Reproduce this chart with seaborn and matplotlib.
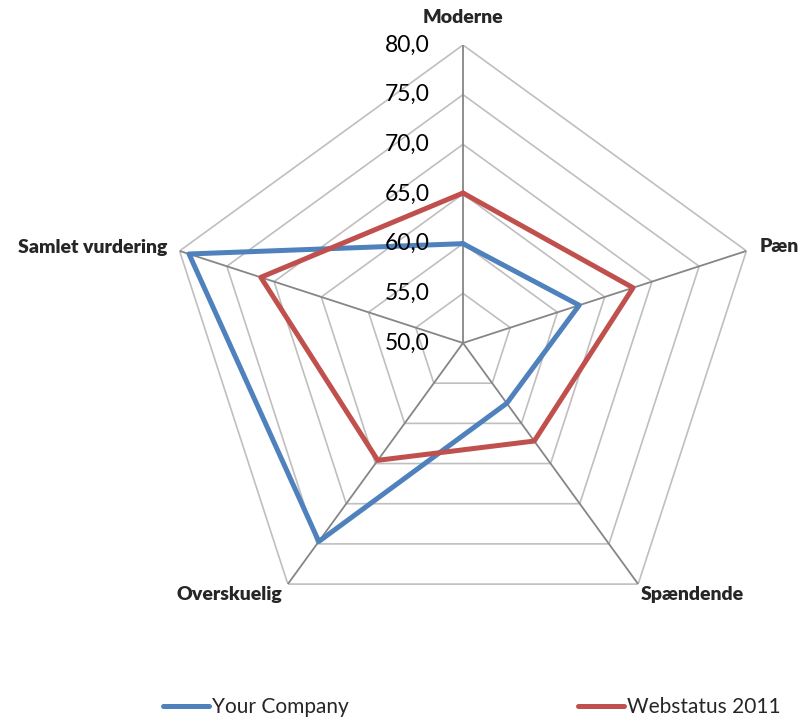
import numpy as np
import pandas as pd
import seaborn as sns
import matplotlib.pyplot as plt
from matplotlib.lines import Line2D

categories = ["Moderne", "Pæn", "Spændende", "Overskuelig", "Samlet vurdering"]
your_company = [60.0, 62.3, 57.5, 74.7, 79.0]
webstatus = [65.1, 68.0, 62.2, 64.6, 71.4]
series_names = ["Your Company", "Webstatus 2011"]
levels = [50, 55, 60, 65, 70, 75, 80]
tick_labels = ["50,0", "55,0", "60,0", "65,0", "70,0", "75,0", "80,0"]

sns.set_style("white")
plt.rcParams["font.family"] = ["Lato", "DejaVu Sans"]

blue = "#4F81BD"
red = "#C0504D"

n = len(categories)
angles = np.linspace(0, 2 * np.pi, n, endpoint=False)
closed = np.append(angles, angles[0])

rows = []
for name, vals in zip(series_names, [your_company, webstatus]):
    for i, t in enumerate(closed):
        rows.append({"series": name, "theta": t, "value": vals[i % n], "order": i})
df = pd.DataFrame(rows)

fig = plt.figure(figsize=(8.03, 7.19), dpi=100)
ax = fig.add_axes([165 / 803, 78 / 719, 596 / 803, 596 / 719], projection="polar")
ax.set_theta_offset(np.pi / 2)
ax.set_theta_direction(-1)
ax.set_ylim(50, 80)
ax.grid(False)
ax.spines["polar"].set_visible(False)

# pentagon grid
for lv in levels[1:]:
    ax.plot(closed, [lv] * len(closed), color="#BFBFBF", lw=1.2, zorder=1)
for t in angles:
    ax.plot([t, t], [50, 80], color="#868686", lw=1.3, zorder=2)

sns.lineplot(data=df, x="theta", y="value", hue="series", sort=False,
             palette=[blue, red], linewidth=3.6, legend=False, ax=ax,
             estimator=None, units="series", zorder=3)
ax.set_xlabel("")
ax.set_ylabel("")
ax.set_ylim(50, 80)
ax.set_xticks([])
ax.set_yticks([])

# value labels along top axis
for lv, lab in zip(levels, tick_labels):
    ax.annotate(lab, xy=(0, lv), xytext=(-24, 0), textcoords="offset points",
                ha="right", va="center", fontsize=16.5, color="black", zorder=5)

# category labels
offsets = [((0, 19.5), "center"), ((9.4, 2.9), "left"), ((2.0, -7.2), "left"),
           ((-4.3, -7.2), "right"), ((-8.6, 2.2), "right")]
for t, cat, (off, ha) in zip(angles, categories, offsets):
    ax.annotate(cat, xy=(t, 80), xytext=off, textcoords="offset points",
                ha=ha, va="center", fontsize=14, fontweight="heavy")

handles = [Line2D([], [], color=blue, lw=3.6, solid_capstyle="round"),
           Line2D([], [], color=red, lw=3.6, solid_capstyle="round")]
fig.legend(handles, series_names, loc="center left",
           bbox_to_anchor=(163 / 803, 1 - 707 / 719), ncol=2, frameon=False,
           fontsize=15, handlelength=2.2, handletextpad=0.15,
           columnspacing=11.0, borderaxespad=0, borderpad=0)

fig.savefig("out.png", dpi=100)
